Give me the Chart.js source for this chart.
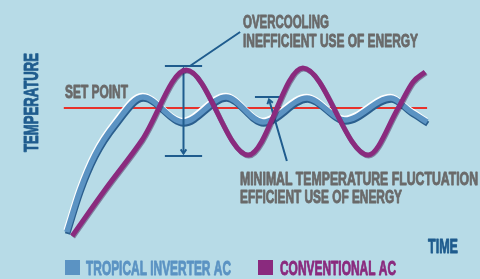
<!DOCTYPE html>
<html>
<head>
<meta charset="utf-8">
<script src="https://cdn.jsdelivr.net/npm/chart.js@4.4.1/dist/chart.umd.min.js"></script>
<style>
  html, body { margin: 0; padding: 0; background: #b7dbe7; overflow: hidden; }
  canvas { display: block; }
</style>
</head>
<body>
<canvas id="chart" width="480" height="279"></canvas>
<script>
// x = time (0-100), y = temperature (drawing units)
const setPoint = 23.2;
const setPointSpan = [1, 96.6];

// conventional AC: big swings around the set point
const convTime = [3.2, 11.8, 21.6, 33.2, 49.5, 63.9, 81.1, 89.0, 92.9, 96.1];
const convTemp = [10.4, 15.0, 20.0, 27.0, 18.5, 27.2, 18.5, 23.2, 25.8, 26.8];

// inverter AC: small ripple around the set point
const invTime = [1.8, 5.3, 9.2, 14.5, 21.8, 32.4, 43.7, 53.4, 65.0, 75.0, 87.1, 92.1, 96.6];
const invTemp = [10.8, 15.0, 18.5, 21.6, 24.3, 21.8, 24.3, 21.8, 24.2, 22.0, 24.2, 22.9, 21.8];

const seriesNames = ["TROPICAL INVERTER AC", "CONVENTIONAL AC"];

const BG = "#b7dbe7";
const BLUE = "#5b93c3", BLUE_DARK = "#2b5f8e", PURPLE = "#8a2a7e";
const RED = "#e8322b", GREY = "#6a6a6a", NAVY = "#1f5c8e";

const pts = (xs, ys) => xs.map((x, i) => ({ x, y: ys[i] }));

// callouts, in data units
const overcool = { t: 32.5, half: 4.9, hi: 27.4, lo: 18.4, tipHi: 27.15, tipLo: 18.65,
                   lead: [[34.2, 27.4], [47.4, 30.8]] };
const ripple = { cap: [51.3, 57.9], y: 24.3, from: [59.7, 17.9], to: [55.0, 24.05] };

// text labels (pixel layout: left, baseline, cap height, width)
const labels = [
  { s: "OVERCOOLING", x: 243, y: 28, cap: 13, w: 86, c: GREY },
  { s: "INEFFICIENT USE OF ENERGY", x: 243, y: 47, cap: 13.5, w: 175, c: GREY },
  { s: "SET POINT", x: 65, y: 98, cap: 13, w: 63, c: GREY },
  { s: "MINIMAL TEMPERATURE FLUCTUATION", x: 240, y: 185, cap: 13, w: 238, c: GREY },
  { s: "EFFICIENT USE OF ENERGY", x: 240, y: 203, cap: 13, w: 162, c: GREY },
  { s: "TIME", x: 428, y: 253, cap: 14.5, w: 30, c: NAVY },
  { s: "TEMPERATURE", x: 38, y: 152, cap: 15, w: 99, c: NAVY, rot: true },
  { s: seriesNames[0], x: 86, y: 275, cap: 15, w: 145, c: BLUE },
  { s: seriesNames[1], x: 280, y: 275, cap: 15, w: 116, c: PURPLE },
];

function fitText(ctx, l) {
  const size = l.cap / 0.72;
  ctx.save();
  ctx.font = `bold ${size}px "Liberation Sans", Arial, sans-serif`;
  const w = ctx.measureText(l.s).width;
  ctx.translate(l.x, l.y);
  if (l.rot) ctx.rotate(-Math.PI / 2);
  ctx.scale(l.w / w, 1);
  ctx.fillStyle = l.c;
  ctx.strokeStyle = l.c;
  ctx.lineWidth = 0.9;
  ctx.lineJoin = "round";
  ctx.textBaseline = "alphabetic";
  ctx.fillText(l.s, 0, 0);
  ctx.strokeText(l.s, 0, 0);
  ctx.restore();
}

function chevron(ctx, x1, y1, x2, y2, len) {
  // open arrow head at (x2, y2) pointing away from (x1, y1)
  const a = Math.atan2(y2 - y1, x2 - x1);
  ctx.beginPath();
  ctx.moveTo(x2 - len * Math.cos(a - 0.6), y2 - len * Math.sin(a - 0.6));
  ctx.lineTo(x2, y2);
  ctx.lineTo(x2 - len * Math.cos(a + 0.6), y2 - len * Math.sin(a + 0.6));
  ctx.stroke();
}

function drawCallouts(chart) {
  const { ctx, scales: { x, y } } = chart;
  const px = v => x.getPixelForValue(v), py = v => y.getPixelForValue(v);
  ctx.save();
  ctx.strokeStyle = NAVY;
  ctx.lineWidth = 2;
  ctx.lineCap = "butt";
  // overcooling range
  const cx = px(overcool.t), l = px(overcool.t - overcool.half), r = px(overcool.t + overcool.half);
  ctx.beginPath();
  ctx.moveTo(l, py(overcool.hi)); ctx.lineTo(r, py(overcool.hi));
  ctx.moveTo(l, py(overcool.lo)); ctx.lineTo(r, py(overcool.lo));
  ctx.moveTo(cx, py(overcool.tipHi)); ctx.lineTo(cx, py(overcool.tipLo));
  ctx.moveTo(px(overcool.lead[0][0]), py(overcool.lead[0][1]));
  ctx.lineTo(px(overcool.lead[1][0]), py(overcool.lead[1][1]));
  ctx.stroke();
  chevron(ctx, cx, py(overcool.tipLo), cx, py(overcool.tipHi), 5);
  chevron(ctx, cx, py(overcool.tipHi), cx, py(overcool.tipLo), 5);
  // inverter ripple
  ctx.beginPath();
  ctx.moveTo(px(ripple.cap[0]), py(ripple.y)); ctx.lineTo(px(ripple.cap[1]), py(ripple.y));
  ctx.moveTo(px(ripple.from[0]), py(ripple.from[1])); ctx.lineTo(px(ripple.to[0]), py(ripple.to[1]));
  ctx.stroke();
  chevron(ctx, px(ripple.from[0]), py(ripple.from[1]), px(ripple.to[0]), py(ripple.to[1]), 5);
  ctx.restore();
}

const artPlugin = {
  id: "art",
  beforeDraw(chart) {
    const { ctx, width, height } = chart;
    ctx.save();
    ctx.fillStyle = BG;
    ctx.fillRect(0, 0, width, height);
    ctx.restore();
  },
  beforeDatasetDraw(chart, args) {
    const ds = chart.data.datasets[args.index];
    const ctx = chart.ctx;
    ctx.save();
    if (ds.shift) ctx.translate(ds.shift[0], ds.shift[1]);
    if (ds.shade) {
      ctx.shadowColor = ds.shade;
      ctx.shadowOffsetX = 0.8;
      ctx.shadowOffsetY = 1;
    }
  },
  afterDatasetDraw(chart, args) {
    chart.ctx.restore();
    if (chart.data.datasets[args.index].callouts) drawCallouts(chart);
  },
  afterDraw(chart) {
    const ctx = chart.ctx;
    ctx.save();
    ctx.fillStyle = BLUE;
    ctx.fillRect(65, 260, 15, 15);
    ctx.fillStyle = PURPLE;
    ctx.fillRect(258, 260, 15, 15);
    ctx.restore();
    labels.forEach(l => fitText(ctx, l));
  }
};

const line = { pointRadius: 0, cubicInterpolationMode: "monotone", borderCapStyle: "butt", fill: false };

new Chart(document.getElementById("chart"), {
  type: "line",
  data: {
    datasets: [
      { ...line, label: seriesNames[1], data: pts(convTime, convTemp), borderColor: PURPLE,
        borderWidth: 5, order: 0, shade: "rgba(60,20,70,0.45)" },
      { ...line, label: seriesNames[0], data: pts(invTime, invTemp), borderColor: BLUE,
        borderWidth: 5.5, order: 1, callouts: true },
      { ...line, label: "highlight", data: pts(invTime, invTemp), borderColor: "#ffffff",
        borderWidth: 5.5, order: 2, shift: [-0.7, -1.6] },
      { ...line, label: "edge", data: pts(invTime, invTemp), borderColor: BLUE_DARK,
        borderWidth: 5.5, order: 3, shift: [0.7, 2] },
      { ...line, label: "SET POINT", data: pts(setPointSpan, [setPoint, setPoint]),
        borderColor: RED, borderWidth: 2, order: 4, cubicInterpolationMode: "default", tension: 0 },
    ]
  },
  options: {
    responsive: false,
    animation: false,
    events: [],
    layout: { padding: { left: 60, right: 40, top: 20, bottom: 39 } },
    scales: {
      x: { type: "linear", min: 0, max: 100, display: false },
      y: { type: "linear", min: 10, max: 32, display: false },
    },
    plugins: { legend: { display: false }, tooltip: { enabled: false } },
  },
  plugins: [artPlugin],
});
</script>
</body>
</html>
